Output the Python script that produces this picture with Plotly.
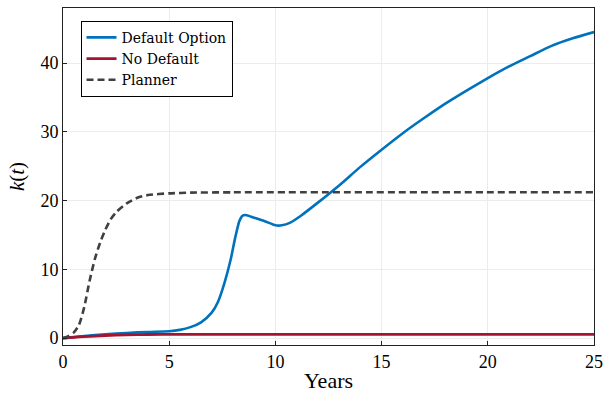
import plotly.graph_objects as go

# Capital paths k(t) over time (years)
t_default = [0, 0.5, 1, 2, 3, 4, 5, 5.5, 6, 6.5, 7, 7.3, 7.6, 7.9, 8.1, 8.3, 8.45, 8.6,
             9, 9.5, 10, 10.3, 10.7, 11.2, 12, 13, 14, 15, 16, 17, 18, 19, 20, 21, 22, 23, 24, 25]
k_default = [0, 0.15, 0.3, 0.55, 0.75, 0.9, 1.0, 1.2, 1.6, 2.3, 3.7, 5.3, 8.0, 11.5, 14.5, 17.0, 17.8, 17.9,
             17.5, 17.0, 16.4, 16.4, 16.8, 17.8, 19.7, 22.2, 24.9, 27.4, 29.8, 32.0, 34.1, 36.0, 37.8, 39.5, 41.0, 42.5, 43.6, 44.5]

t_nodefault = [0, 0.5, 1, 2, 3, 4, 5, 25]
k_nodefault = [0, 0.12, 0.22, 0.38, 0.48, 0.53, 0.55, 0.55]

t_planner = [0, 0.25, 0.5, 0.75, 1, 1.25, 1.5, 1.75, 2, 2.25, 2.5, 3, 3.5, 4, 5, 6, 8, 25]
k_planner = [0, 0.3, 0.8, 1.9, 4.5, 8.3, 11.5, 13.9, 15.8, 17.3, 18.3, 19.6, 20.4, 20.8, 21.05, 21.15, 21.2, 21.2]

x_ticks = [0, 5, 10, 15, 20, 25]
y_ticks = [0, 10, 20, 30, 40]

SERIF = "'Liberation Serif', 'Times New Roman', serif"
LEGEND_SERIF = "'DejaVu Serif', serif"

fig = go.Figure()
fig.add_trace(go.Scatter(x=t_default, y=k_default, mode="lines", name="Default Option",
                         line=dict(color="#0072bd", width=2.6, shape="spline", smoothing=0.6)))
fig.add_trace(go.Scatter(x=t_nodefault, y=k_nodefault, mode="lines", name="No Default",
                         line=dict(color="#a2142f", width=2.8, shape="spline", smoothing=0.6)))
fig.add_trace(go.Scatter(x=t_planner, y=k_planner, mode="lines", name="Planner",
                         line=dict(color="#404040", width=2.6, dash="7px,4px", shape="spline", smoothing=0.6)))

axis_common = dict(
    showgrid=True, gridcolor="#ececec", gridwidth=1,
    showline=True, linecolor="#222222", linewidth=1, mirror=True,
    ticks="inside", ticklen=4, tickcolor="#222222",
    zeroline=False, automargin=False,
    tickfont=dict(family=SERIF, size=18, color="#000000"),
)

fig.update_layout(
    width=604, height=393,
    margin=dict(l=63, r=10, t=8, b=48),
    paper_bgcolor="white", plot_bgcolor="white",
    font=dict(family=SERIF, color="#000000"),
    xaxis=dict(range=[0, 25], tickvals=x_ticks,
               title=dict(text="Years", font=dict(family=SERIF, size=22), standoff=14),
               **axis_common),
    yaxis=dict(range=[-1.0, 48.0], tickvals=y_ticks,
               title=dict(text="<i>k</i>(<i>t</i>)", font=dict(family=SERIF, size=21), standoff=10),
               **axis_common),
    legend=dict(x=0.033, y=0.962, xanchor="left", yanchor="top",
                bgcolor="white", bordercolor="#000000", borderwidth=1,
                font=dict(family=LEGEND_SERIF, size=14, color="#000000"),
                itemwidth=30, tracegroupgap=0),
    showlegend=True,
)

fig.write_html("out.html")
